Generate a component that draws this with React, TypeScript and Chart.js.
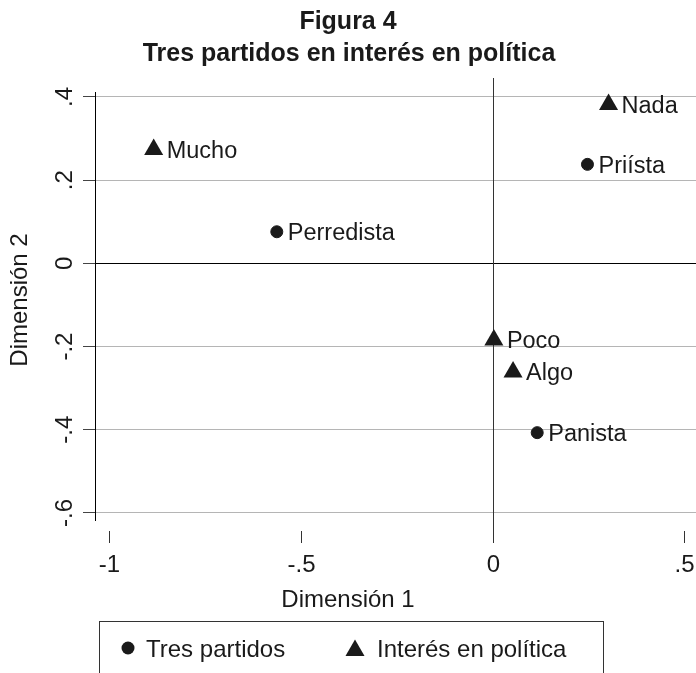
import React, { useEffect, useRef } from 'react';
import { Chart, registerables } from 'chart.js';

Chart.register(...registerables);

const W = 696;
const H = 673;
const FONT = '"Liberation Sans", Arial, Helvetica, sans-serif';

const titleLines = ['Figura 4', 'Tres partidos en interés en política'];
const seriesNames = ['Tres partidos', 'Interés en política'];

const partidoLabels = ['Priísta', 'Perredista', 'Panista'];
const partidoX = [0.247, -0.563, 0.116];
const partidoY = [0.238, 0.076, -0.407];

const interesLabels = ['Nada', 'Mucho', 'Poco', 'Algo'];
const interesX = [0.302, -0.884, 0.003, 0.053];
const interesY = [0.382, 0.274, -0.184, -0.261];

const xTicks = [-1, -0.5, 0, 0.5];
const xTickLabels = ['-1', '-.5', '0', '.5'];
const yTicks = [-0.6, -0.4, -0.2, 0, 0.2, 0.4];
const yTickLabels = ['-.6', '-.4', '-.2', '0', '.2', '.4'];
const xTitle = 'Dimensión 1';
const yTitle = 'Dimensión 2';
const xRange = [-1.037, 0.53];
const yRange = [-0.617, 0.412];

const TXT = 23.5;
const TXT2 = 24;
const INK = '#1a1a1a';

function capText(ctx: CanvasRenderingContext2D, s: string, x: number, cy: number, size: number, align: CanvasTextAlign, bold = false) {
  ctx.font = `${bold ? 'bold ' : ''}${size}px ${FONT}`;
  ctx.textAlign = align;
  ctx.textBaseline = 'alphabetic';
  ctx.fillText(s, x, cy + size * 0.358);
}

function drawTriangle(ctx: CanvasRenderingContext2D, x: number, y: number, r: number) {
  ctx.beginPath();
  ctx.moveTo(x, y - r);
  ctx.lineTo(x + r * 0.866, y + r * 0.5);
  ctx.lineTo(x - r * 0.866, y + r * 0.5);
  ctx.closePath();
  ctx.fill();
}

const decor = {
  id: 'decor',
  beforeDatasetsDraw(chart: any) {
    const { ctx, chartArea: a, scales } = chart;
    const px = Math.round(scales.x.getPixelForValue(0)) + 0.5;
    ctx.save();
    ctx.strokeStyle = '#333';
    ctx.lineWidth = 1;
    ctx.beginPath();
    ctx.moveTo(px, a.top - 14);
    ctx.lineTo(px, a.bottom + 23);
    ctx.stroke();
    ctx.restore();
  },
  afterDatasetsDraw(chart: any) {
    const { ctx } = chart;
    const labelSets = [partidoLabels, interesLabels];
    const offs = [11, 13];
    ctx.save();
    ctx.fillStyle = INK;
    chart.data.datasets.forEach((_: any, di: number) => {
      const meta = chart.getDatasetMeta(di);
      meta.data.forEach((pt: any, i: number) => {
        capText(ctx, labelSets[di][i], pt.x + offs[di], pt.y, TXT, 'left');
      });
    });
    ctx.restore();
  },
  afterDraw(chart: any) {
    const { ctx, chartArea: a, scales } = chart;
    ctx.save();
    ctx.fillStyle = INK;
    // title
    capText(ctx, titleLines[0], 348, 20, 25, 'center', true);
    capText(ctx, titleLines[1], 349, 52, 25, 'center', true);
    // x ticks
    ctx.strokeStyle = '#333';
    ctx.lineWidth = 1;
    xTicks.forEach((v, i) => {
      const px = Math.round(scales.x.getPixelForValue(v)) + 0.5;
      ctx.beginPath();
      ctx.moveTo(px, a.bottom + 11);
      ctx.lineTo(px, a.bottom + 23);
      ctx.stroke();
      capText(ctx, xTickLabels[i], px, a.bottom + 43, TXT2, 'center');
    });
    capText(ctx, xTitle, 348, 598, TXT2, 'center');
    // y tick labels rotated
    yTicks.forEach((v, i) => {
      const py = scales.y.getPixelForValue(v);
      ctx.save();
      ctx.translate(63, py);
      ctx.rotate(-Math.PI / 2);
      capText(ctx, yTickLabels[i], 0, 0, TXT2, 'center');
      ctx.restore();
    });
    ctx.save();
    ctx.translate(18, 300);
    ctx.rotate(-Math.PI / 2);
    capText(ctx, yTitle, 0, 0, TXT2, 'center');
    ctx.restore();
    // legend
    ctx.strokeStyle = '#333';
    ctx.strokeRect(99.5, 621.5, 504, 80);
    ctx.beginPath();
    ctx.arc(128, 648, 6.5, 0, Math.PI * 2);
    ctx.fill();
    capText(ctx, seriesNames[0], 146, 648, TXT2, 'left');
    drawTriangle(ctx, 355, 650.5, 11);
    capText(ctx, seriesNames[1], 377, 648, TXT2, 'left');
    ctx.restore();
  },
};

export default function App() {
  const ref = useRef<HTMLCanvasElement | null>(null);
  useEffect(() => {
    if (!ref.current) return;
    const chart = new Chart(ref.current, {
      type: 'scatter',
      data: {
        datasets: [
          {
            label: seriesNames[0],
            data: partidoX.map((x, i) => ({ x, y: partidoY[i] })),
            pointStyle: 'circle',
            pointRadius: 6,
            backgroundColor: INK,
            borderColor: INK,
            borderWidth: 1,
          },
          {
            label: seriesNames[1],
            data: interesX.map((x, i) => ({ x, y: interesY[i] })),
            pointStyle: 'triangle',
            pointRadius: 11,
            backgroundColor: INK,
            borderColor: INK,
            borderWidth: 0,
          },
        ],
      },
      options: {
        responsive: false,
        animation: false,
        devicePixelRatio: 1,
        layout: { autoPadding: false, padding: { left: 83, top: 92, right: 0, bottom: 153 } },
        plugins: {
          legend: { display: false },
          title: { display: false },
          tooltip: { enabled: false },
        },
        scales: {
          x: { type: 'linear', display: false, min: xRange[0], max: xRange[1] },
          y: {
            type: 'linear',
            min: yRange[0],
            max: yRange[1],
            afterBuildTicks: (axis: any) => {
              axis.ticks = yTicks.map((v) => ({ value: v }));
            },
            ticks: { display: false },
            grid: {
              color: (c: any) => (c.tick && Math.abs(c.tick.value) < 1e-9 ? '#000' : '#b5b5b5'),
              lineWidth: 1,
              drawTicks: true,
              tickLength: 12,
              tickColor: '#444',
            },
            border: { display: true, color: '#000', width: 1 },
          },
        },
      },
      plugins: [decor],
    } as any);
    return () => chart.destroy();
  }, []);
  return (
    <div style={{ position: 'absolute', left: 0, top: 0, width: W, height: H, background: '#fff' }}>
      <canvas ref={ref} width={W} height={H} style={{ display: 'block', width: W, height: H }} />
    </div>
  );
}
